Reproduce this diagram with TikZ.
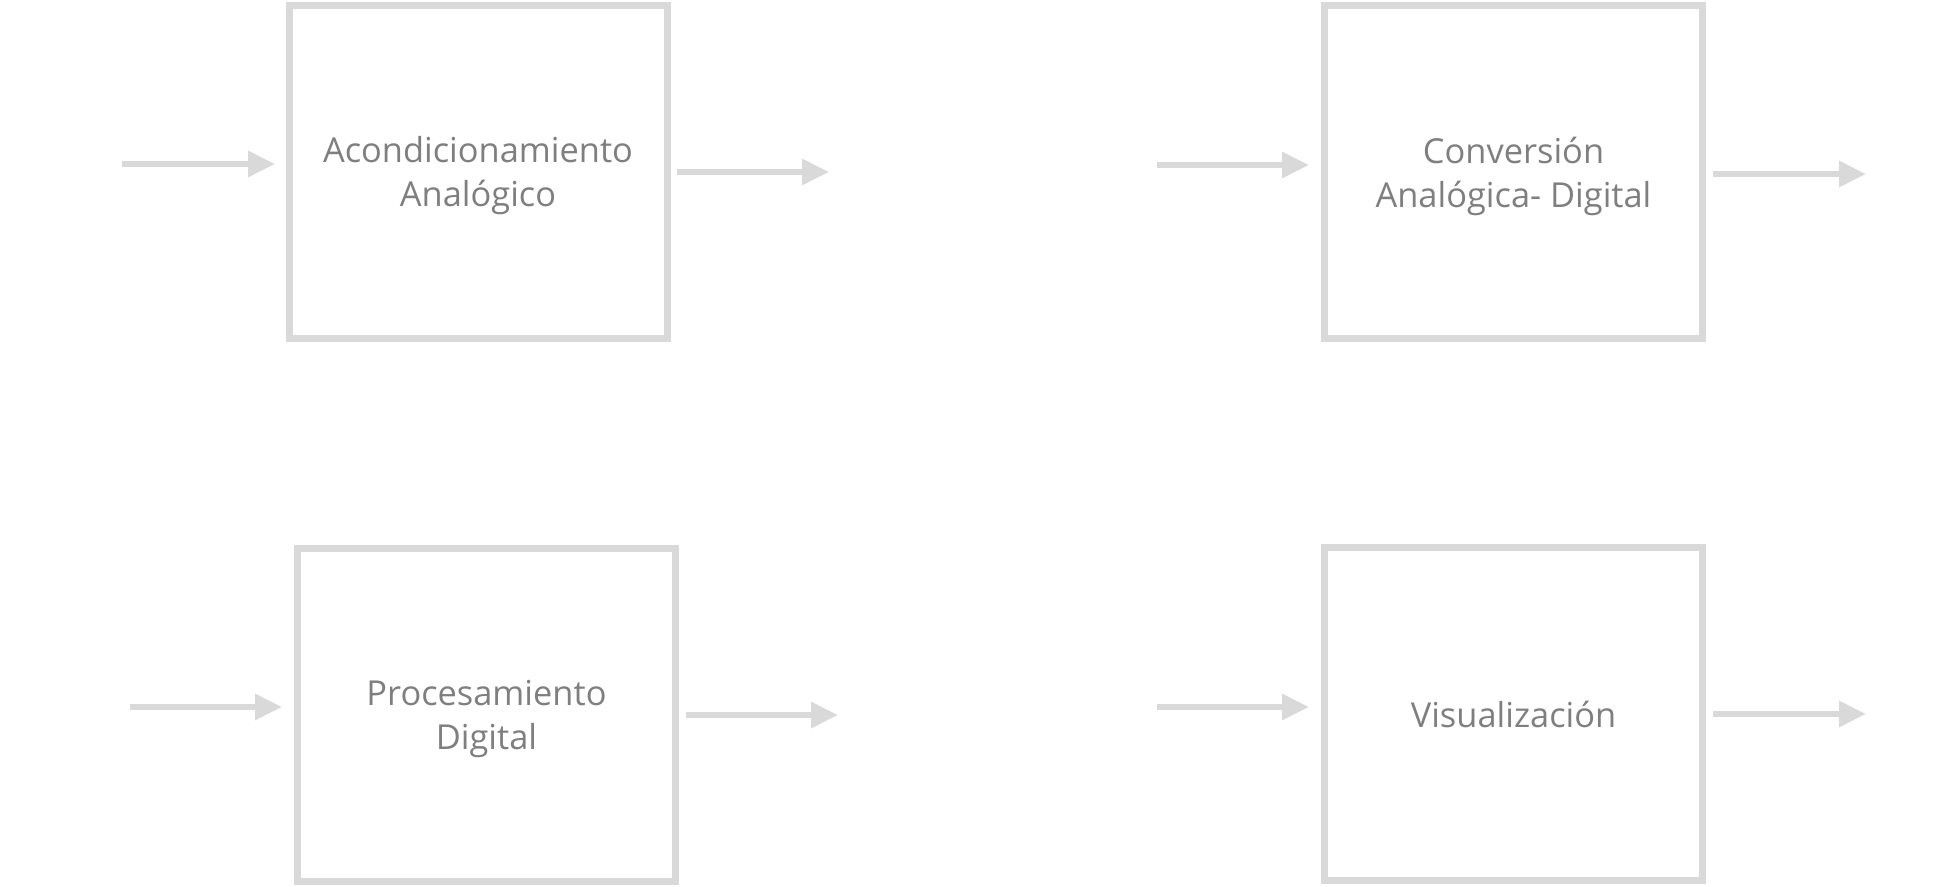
\documentclass[tikz,border=0pt]{standalone}
\usepackage{fontspec}
\setmainfont{Open Sans}
\usetikzlibrary{arrows.meta}
\definecolor{boxgray}{HTML}{D9D9D9}
\definecolor{txtgray}{HTML}{7F7F7F}
\tikzset{
  block/.style={draw=boxgray,line width=3.5pt,minimum width=189pt,minimum height=166.5pt},
  txt/.style={align=center,text=txtgray,font=\fontsize{17.2}{22}\selectfont,inner sep=0pt,yshift=-2pt},
  flow/.style={draw=boxgray,line width=3pt,-{Triangle[length=13.5pt,width=12.5pt]}}
}
\begin{document}
\begin{tikzpicture}[x=0.5pt,y=-0.5pt]
\useasboundingbox (0,0) rectangle (1958,887);
\node[block,label={[txt]center:Acondicionamiento\\Analógico}] (acond) at (478,172) {};
\node[block,label={[txt]center:Conversión\\Analógica- Digital}] (conv) at (1513.5,172.5) {};
\node[block,label={[txt]center:Procesamiento\\Digital}] (proc) at (486.5,715) {};
\node[block,label={[txt,yshift=2pt]center:Visualización}] (visu) at (1513.5,714) {};
% entradas y salidas
\foreach \name/\xa/\xb/\y in {ina/122/275/164,outa/677/829/172,inc/1157/1309/165,outc/1713/1866/174,
  inp/130/282/707,outp/686/838/715,inv/1157/1309/707,outv/1713/1866/714}{
  \coordinate (\name s) at (\xa,\y);
  \coordinate (\name e) at (\xb,\y);
  \draw[flow] (\name s) -- (\name e);}
\end{tikzpicture}
\end{document}
